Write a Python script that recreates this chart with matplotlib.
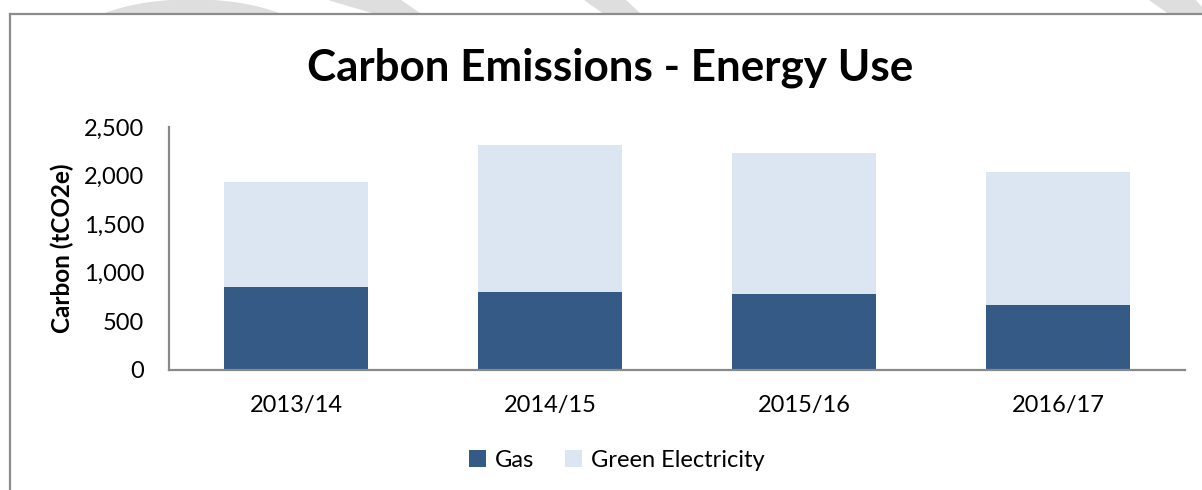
import numpy as np
import matplotlib.pyplot as plt
from matplotlib.patches import Ellipse, Polygon
from matplotlib.lines import Line2D

years = ['2013/14', '2014/15', '2015/16', '2016/17']
gas = [850, 800, 780, 665]
green_elec = [1085, 1515, 1450, 1370]
yticks = [0, 500, 1000, 1500, 2000, 2500]

gas_col = '#355A86'
elec_col = '#DCE6F2'
grey = '#898989'

plt.rcParams['font.family'] = ['Lato', 'DejaVu Sans']

fig = plt.figure(figsize=(12.02, 4.90), dpi=100)
W, H = 1202, 490

# faint watermark pieces above the chart frame
wm = '#dedede'
fig.patches.append(Ellipse((192 / W, 1 - 40 / H), 230 / W, 80 / H,
                           transform=fig.transFigure, color=wm, zorder=-3))
for pts in [[(330, 0), (400, 0), (420, 14), (378, 14)],
            [(585, 0), (625, 0), (640, 14), (605, 14)],
            [(1150, 0), (1195, 0), (1202, 8), (1202, 14), (1170, 14)]]:
    fig.patches.append(Polygon([(x / W, 1 - y / H) for x, y in pts], closed=True,
                               transform=fig.transFigure, color=wm, zorder=-3))
# white chart area covering the watermark
fig.patches.append(Polygon([(10 / W, 0), (10 / W, 1 - 14 / H), (1, 1 - 14 / H), (1, 0)],
                           closed=True, transform=fig.transFigure, color='white', zorder=-2))
# chart border (top and left visible)
fig.lines.append(Line2D([10 / W, 1], [1 - 14 / H, 1 - 14 / H], transform=fig.transFigure,
                        color='#8c8c8c', lw=1.6, zorder=-1))
fig.lines.append(Line2D([10 / W, 10 / W], [0, 1 - 14 / H], transform=fig.transFigure,
                        color='#8c8c8c', lw=1.6, zorder=-1))

ax = fig.add_axes([169 / W, 1 - 370 / H, (1185 - 169) / W, (370 - 127) / H])
ax.set_facecolor('none')
x = np.arange(len(years))
width = 0.57
ax.bar(x, gas, width, color=gas_col, label='Gas', zorder=2)
ax.bar(x, green_elec, width, bottom=gas, color=elec_col, label='Green Electricity', zorder=2)

ax.set_xlim(-0.5, len(years) - 0.5)
ax.set_ylim(0, 2500)
ax.set_yticks(yticks)
ax.set_yticklabels([f'{v:,}' for v in yticks])
ax.set_xticks(x)
ax.set_xticklabels(years)
ax.tick_params(axis='both', length=0, labelsize=17, colors='black')
ax.tick_params(axis='y', pad=18)
ax.tick_params(axis='x', pad=18)
for s in ['top', 'right']:
    ax.spines[s].set_visible(False)
for s in ['left', 'bottom']:
    ax.spines[s].set_color(grey)
    ax.spines[s].set_linewidth(1.6)

fig.text(62 / W, 1 - 248 / H, 'Carbon (tCO2e)', rotation=90, ha='center', va='center',
         fontsize=17.5, fontweight='bold')
fig.text(610 / W, 1 - 68 / H, 'Carbon Emissions - Energy Use', ha='center', va='center',
         fontsize=31.7, fontweight='bold')

fig.legend(loc='center', bbox_to_anchor=(617 / W, 1 - 460 / H), ncol=2, frameon=False,
           fontsize=17, handlelength=0.7, handleheight=0.7, handletextpad=0.4,
           columnspacing=1.3)

fig.savefig('out.png', dpi=100)
